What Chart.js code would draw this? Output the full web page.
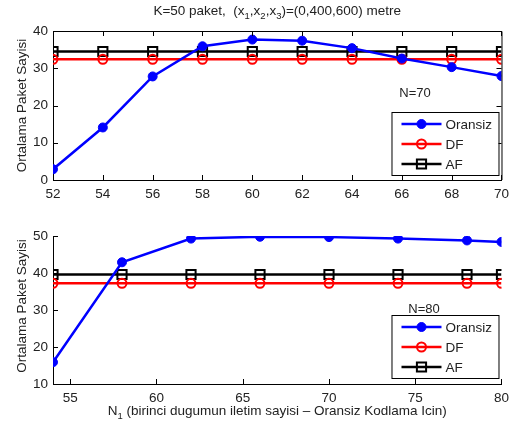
<!DOCTYPE html>
<html>
  <head>
    <meta charset="utf-8" />
    <script src="https://cdn.jsdelivr.net/npm/chart.js"></script>
    <style>
      body { margin: 0; background: #fff; }
      #wrap { position: relative; width: 515px; height: 432px; }
      canvas { position: absolute; left: 0; }
    </style>
  </head>
  <body>
    <div id="wrap">
      <canvas id="top_chart" width="515" height="210" style="top:0"></canvas>
      <canvas id="bottom_chart" width="515" height="222" style="top:210px"></canvas>
    </div>

    <script>
      // ust grafik (N=70)
      var top_x = [52, 54, 56, 58, 60, 62, 64, 66, 68, 70];
      var top_oransiz = [2.9, 14.1, 27.8, 35.9, 37.7, 37.4, 35.4, 32.6, 30.3, 27.9];
      var top_df = [32.4, 32.4, 32.4, 32.4, 32.4, 32.4, 32.4, 32.4, 32.4, 32.4];
      var top_af = [34.5, 34.5, 34.5, 34.5, 34.5, 34.5, 34.5, 34.5, 34.5, 34.5];
      var top_xticks = [52, 54, 56, 58, 60, 62, 64, 66, 68, 70];
      var top_yticks = [0, 10, 20, 30, 40];

      // alt grafik (N=80)
      var bot_x = [54, 58, 62, 66, 70, 74, 78, 80];
      var bot_oransiz = [15.9, 42.9, 49.3, 49.8, 49.7, 49.3, 48.8, 48.4];
      var bot_df = [37.2, 37.2, 37.2, 37.2, 37.2, 37.2, 37.2, 37.2];
      var bot_af = [39.6, 39.6, 39.6, 39.6, 39.6, 39.6, 39.6, 39.6];
      var bot_xticks = [55, 60, 65, 70, 75, 80];
      var bot_yticks = [10, 20, 30, 40, 50];

      var FONT = "Liberation Sans, Arial, sans-serif";
      var TXT = "#222";
      var LBL = "13.5px " + FONT;

      function pts(xs, ys) {
        return xs.map(function (x, i) { return { x: x, y: ys[i] }; });
      }

      function makeDatasets(xs, oransiz, df, af) {
        return [
          {
            label: "Oransiz", data: pts(xs, oransiz),
            borderColor: "#0000ff", backgroundColor: "#0000ff",
            borderWidth: 2.5, pointStyle: "circle", pointRadius: 4.5,
            pointBorderWidth: 1, pointBackgroundColor: "#0000ff",
          },
          {
            label: "DF", data: pts(xs, df),
            borderColor: "#ff0000", backgroundColor: "rgba(0,0,0,0)",
            borderWidth: 2.5, pointStyle: "circle", pointRadius: 4.5,
            pointBorderWidth: 2, pointBackgroundColor: "rgba(0,0,0,0)",
          },
          {
            label: "AF", data: pts(xs, af),
            borderColor: "#000000", backgroundColor: "rgba(0,0,0,0)",
            borderWidth: 2.5, pointStyle: "rect", pointRadius: 6.5,
            pointBorderWidth: 2, pointBackgroundColor: "rgba(0,0,0,0)",
          },
        ];
      }

      // kutu, ice bakan tikler, lejant ve yazilar
      var matlabPlugin = {
        id: "matlab",
        afterDraw: function (chart, args, o) {
          var ctx = chart.ctx, a = chart.chartArea;
          var xs = chart.scales.x, ys = chart.scales.y;
          ctx.save();
          ctx.strokeStyle = "#000";
          ctx.lineWidth = 1;
          if (o.box) {
            ctx.beginPath();
            ctx.moveTo(a.left, a.top + 0.5);
            ctx.lineTo(a.right + 0.5, a.top + 0.5);
            ctx.lineTo(a.right + 0.5, a.bottom);
            ctx.stroke();
          }
          ctx.beginPath();
          xs.ticks.forEach(function (t) {
            var px = Math.round(xs.getPixelForValue(t.value)) + 0.5;
            ctx.moveTo(px, a.bottom); ctx.lineTo(px, a.bottom - 5);
            if (o.box) { ctx.moveTo(px, a.top); ctx.lineTo(px, a.top + 5); }
          });
          ys.ticks.forEach(function (t) {
            var py = Math.round(ys.getPixelForValue(t.value)) + 0.5;
            ctx.moveTo(a.left, py); ctx.lineTo(a.left + 5, py);
            if (o.box) { ctx.moveTo(a.right, py); ctx.lineTo(a.right - 5, py); }
          });
          ctx.stroke();

          // y ekseni basligi
          ctx.fillStyle = TXT;
          ctx.font = LBL;
          ctx.textAlign = "center";
          ctx.textBaseline = "middle";
          ctx.save();
          ctx.translate(22, (a.top + a.bottom) / 2 + o.ylabelShift);
          ctx.rotate(-Math.PI / 2);
          ctx.fillText("Ortalama Paket Sayisi", 0, 0);
          ctx.restore();

          // N=.. notu
          ctx.font = "13px " + FONT;
          ctx.textAlign = "left";
          ctx.fillText(o.note.text, xs.getPixelForValue(o.note.x), ys.getPixelForValue(o.note.y));

          // lejant
          var lx = a.right - 110, ly = a.bottom - o.legendBottom - 63;
          ctx.fillStyle = "#fff";
          ctx.fillRect(lx, ly, 107, 63);
          ctx.strokeStyle = "#000";
          ctx.strokeRect(lx + 0.5, ly + 0.5, 107, 63);
          chart.data.datasets.forEach(function (ds, i) {
            var ry = ly + 12 + i * 20;
            ctx.strokeStyle = ds.borderColor;
            ctx.lineWidth = 2.5;
            ctx.beginPath();
            ctx.moveTo(lx + 10, ry); ctx.lineTo(lx + 50, ry);
            ctx.stroke();
            ctx.lineWidth = ds.pointBorderWidth;
            ctx.fillStyle = ds.pointBackgroundColor;
            ctx.beginPath();
            if (ds.pointStyle === "rect") {
              var s = ds.pointRadius * Math.SQRT1_2;
              ctx.rect(lx + 30 - s, ry - s, 2 * s, 2 * s);
            } else {
              ctx.arc(lx + 30, ry, ds.pointRadius, 0, Math.PI * 2);
            }
            ctx.fill();
            ctx.stroke();
            ctx.fillStyle = TXT;
            ctx.font = "13.5px " + FONT;
            ctx.textAlign = "left";
            ctx.fillText(ds.label, lx + 54, ry + 1);
          });

          // baslik veya x ekseni basligi (alt simgeli)
          if (o.label) {
            var sub = "9.5px " + FONT;
            var w = 0;
            o.label.forEach(function (p) {
              ctx.font = p.sub ? sub : LBL;
              w += ctx.measureText(p.t).width;
            });
            var cx = (a.left + a.right) / 2 - w / 2;
            ctx.textAlign = "left";
            o.label.forEach(function (p) {
              ctx.font = p.sub ? sub : LBL;
              ctx.fillText(p.t, cx, o.labelY + (p.sub ? 5 : 0));
              cx += ctx.measureText(p.t).width;
            });
          }
          ctx.restore();
        },
      };

      function createGraph(elementId, xs, oransiz, df, af, xticks, yticks, xmin, xmax, ymin, ymax, opts) {
        var ctx = document.getElementById(elementId).getContext("2d");
        return new Chart(ctx, {
          type: "line",
          data: { datasets: makeDatasets(xs, oransiz, df, af) },
          plugins: [matlabPlugin],
          options: {
            responsive: false,
            animation: false,
            devicePixelRatio: 1,
            layout: { padding: { left: 0, right: 13, top: opts.top, bottom: 0 } },
            plugins: { legend: { display: false }, tooltip: { enabled: false }, matlab: opts },
            scales: {
              x: {
                type: "linear", min: xmin, max: xmax,
                grid: { display: false, drawTicks: false },
                border: { display: true, color: "#000", width: 1 },
                ticks: { color: TXT, font: { family: FONT, size: 13.5 }, padding: 6, maxRotation: 0 },
                afterBuildTicks: function (s) { s.ticks = xticks.map(function (v) { return { value: v }; }); },
                afterFit: function (s) { s.height = opts.xh; },
              },
              y: {
                min: ymin, max: ymax,
                grid: { display: false, drawTicks: false },
                border: { display: true, color: "#000", width: 1 },
                ticks: { color: TXT, font: { family: FONT, size: 13.5 }, padding: 5 },
                afterBuildTicks: function (s) { s.ticks = yticks.map(function (v) { return { value: v }; }); },
                afterFit: function (s) { s.width = 53; },
              },
            },
          },
        });
      }

      createGraph("top_chart", top_x, top_oransiz, top_df, top_af, top_xticks, top_yticks, 52, 70, 0, 40, {
        top: 31, xh: 30, box: true, ylabelShift: 0, legendBottom: 5,
        note: { text: "N=70", x: 65.9, y: 23.2 },
        label: [
          { t: "K=50 paket,  (x" }, { t: "1", sub: true }, { t: ",x" }, { t: "2", sub: true },
          { t: ",x" }, { t: "3", sub: true }, { t: ")=(0,400,600) metre" },
        ],
        labelY: 11,
      });

      createGraph("bottom_chart", bot_x, bot_oransiz, bot_df, bot_af, bot_xticks, bot_yticks, 54, 80, 10, 50, {
        top: 26, xh: 48, box: false, ylabelShift: -4, legendBottom: 6,
        note: { text: "N=80", x: 74.6, y: 30.2 },
        label: [
          { t: "N" }, { t: "1", sub: true }, { t: " (birinci dugumun iletim sayisi \u2013 Oransiz Kodlama Icin)" },
        ],
        labelY: 201,
      });
    </script>
  </body>
</html>
